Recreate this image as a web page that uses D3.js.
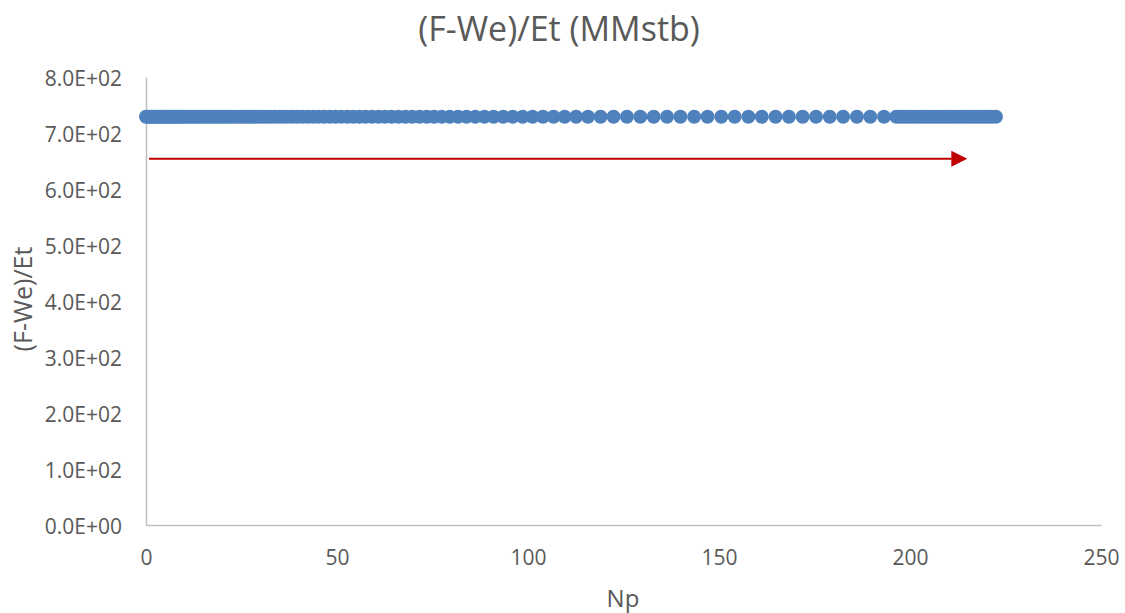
<!DOCTYPE html>
<html>
<head>
<meta charset="utf-8">
<script src="https://cdn.jsdelivr.net/npm/d3@7"></script>
<style>
  html, body { margin: 0; padding: 0; background: #ffffff; }
  svg { display: block; }
  text { font-family: "Open Sans", "Noto Sans", sans-serif; fill: #595959; }
</style>
</head>
<body>
<svg id="chart" width="1125" height="613"></svg>
<script>
// ---- data ----
const chartTitle = "(F-We)/Et (MMstb)";
const xTitle = "Np";
const yTitle = "(F-We)/Et";
const xTicks = [0, 50, 100, 150, 200, 250];
const yTicks = [0, 100, 200, 300, 400, 500, 600, 700, 800];

const np = [
  0, 0.5, 1, 1.5, 2, 2.5, 3, 3.5, 4, 4.5, 5, 5.5, 6, 6.5, 7, 7.5, 8, 8.5, 9, 9.5, 10,
  10.7, 11.4, 12.1, 12.8, 13.5, 14.2, 15, 15.8, 16.6, 17.4, 18.2, 19, 19.8, 20.6, 21.4, 22.3,
  23.2, 24.1, 25, 25.9, 26.8, 27.7, 28.7, 29.7, 30.7, 31.7, 32.7, 33.8, 34.9, 36, 37.1, 38.3,
  39.6, 40.9, 42.3, 43.7, 45.1, 46.6, 48.1, 49.6, 51.1, 52.7, 54.3, 55.9, 57.5, 59.2, 60.9,
  62.6, 64.3, 66.1, 67.9, 69.7, 71.6, 73.5, 75.4, 77.4,
  79.5, 81.7, 83.9, 86.2, 88.6, 91, 93.5, 96, 98.6, 101.2, 103.9, 106.7, 109.6, 112.6, 115.7,
  119, 122.4, 125.9, 129.4, 132.9, 136.4, 139.9, 143.5, 147, 150.6, 154.1, 157.7, 161.2,
  164.8, 168.3, 171.9, 175.4, 179, 182.5, 186.1, 189.6, 193.2, 196.4,
  197.4, 198.4, 199.4, 200.4, 201.4, 202.4, 203.4, 204.4, 205.4, 206.4, 207.4, 208.4, 209.4,
  210.4, 211.4, 212.4, 213.4, 214.4, 215.4, 216.4, 217.4, 218.4, 219.4, 220.4, 221.4, 222.5
];
const fweEt = [
  729, 729, 729, 729, 729, 729, 729, 729, 729, 729, 729, 729, 729, 729, 729, 729, 729, 729, 729, 729, 729,
  729, 729, 729, 729, 729, 729, 729, 729, 729, 729, 729, 729, 729, 729, 729, 729,
  729, 729, 729, 729, 729, 729, 729, 729, 729, 729, 729, 729, 729, 729, 729, 729,
  729, 729, 729, 729, 729, 729, 729, 729, 729, 729, 729, 729, 729, 729, 729,
  729, 729, 729, 729, 729, 729, 729, 729, 729,
  729, 729, 729, 729, 729, 729, 729, 729, 729, 729, 729, 729, 729, 729, 729,
  729, 729, 729, 729, 729, 729, 729, 729, 729, 729, 729, 729, 729,
  729, 729, 729, 729, 729, 729, 729, 729, 729, 729,
  729, 729, 729, 729, 729, 729, 729, 729, 729, 729, 729, 729, 729,
  729, 729, 729, 729, 729, 729, 729, 729, 729, 729, 729, 729, 729
];
// trend arrow annotation (Np from, Np to, value)
const arrowNp = [0.8, 215];
const arrowValue = 654;

// ---- drawing ----
const svg = d3.select("#chart");
const x = d3.scaleLinear().domain([0, 250]).range([146, 1101]);
const y = d3.scaleLinear().domain([0, 800]).range([525, 77]);

svg.append("rect").attr("width", 1125).attr("height", 613).attr("fill", "#ffffff");

// title
svg.append("text")
  .attr("x", 559).attr("y", 28)
  .attr("text-anchor", "middle").attr("dominant-baseline", "central")
  .style("font-size", "34px")
  .text(chartTitle);

// axes
const xAxis = d3.axisBottom(x).tickValues(xTicks).tickSize(0).tickPadding(0)
  .tickFormat(d3.format("d"));
const gx = svg.append("g").attr("transform", `translate(0,${y(0)})`).call(xAxis);
gx.select(".domain").attr("stroke", "#BFBFBF").attr("stroke-width", 1.5);
gx.selectAll(".tick text")
  .attr("y", 32).attr("dy", null).attr("dominant-baseline", "central")
  .style("font-size", "21px").style("font-family", null).attr("fill", "#595959");

const yAxis = d3.axisLeft(y).tickValues(yTicks).tickSize(0).tickPadding(0)
  .tickFormat(d => d3.format(".1e")(d).replace(/e([+-])(\d)$/, "e$10$2").toUpperCase());
const gy = svg.append("g").attr("transform", `translate(${x(0)},0)`).call(yAxis);
gy.select(".domain").attr("stroke", "#BFBFBF").attr("stroke-width", 1.5);
gy.selectAll(".tick text")
  .attr("x", -24).attr("dy", null).attr("dominant-baseline", "central")
  .style("font-size", "21px").style("font-family", null).attr("fill", "#595959");

// axis titles
svg.append("text")
  .attr("x", 623).attr("y", 597)
  .attr("text-anchor", "middle").attr("dominant-baseline", "central")
  .style("font-size", "24px")
  .text(xTitle);
svg.append("text")
  .attr("transform", "translate(22,299) rotate(-90)")
  .attr("text-anchor", "middle").attr("dominant-baseline", "central")
  .style("font-size", "25px")
  .text(yTitle);

// points
svg.append("g").selectAll("circle")
  .data(np.map((v, i) => ({ np: v, val: fweEt[i] })))
  .join("circle")
  .attr("cx", d => x(d.np))
  .attr("cy", d => y(d.val))
  .attr("r", 7)
  .attr("fill", "#4F81BD");

// arrow
const ax0 = x(arrowNp[0]), ax1 = x(arrowNp[1]), ay = y(arrowValue);
svg.append("line")
  .attr("x1", ax0).attr("x2", ax1 - 14).attr("y1", ay).attr("y2", ay)
  .attr("stroke", "#C00000").attr("stroke-width", 2);
svg.append("path")
  .attr("d", `M${ax1},${ay} L${ax1 - 16},${ay - 8} L${ax1 - 16},${ay + 8} Z`)
  .attr("fill", "#C00000");
</script>
</body>
</html>
